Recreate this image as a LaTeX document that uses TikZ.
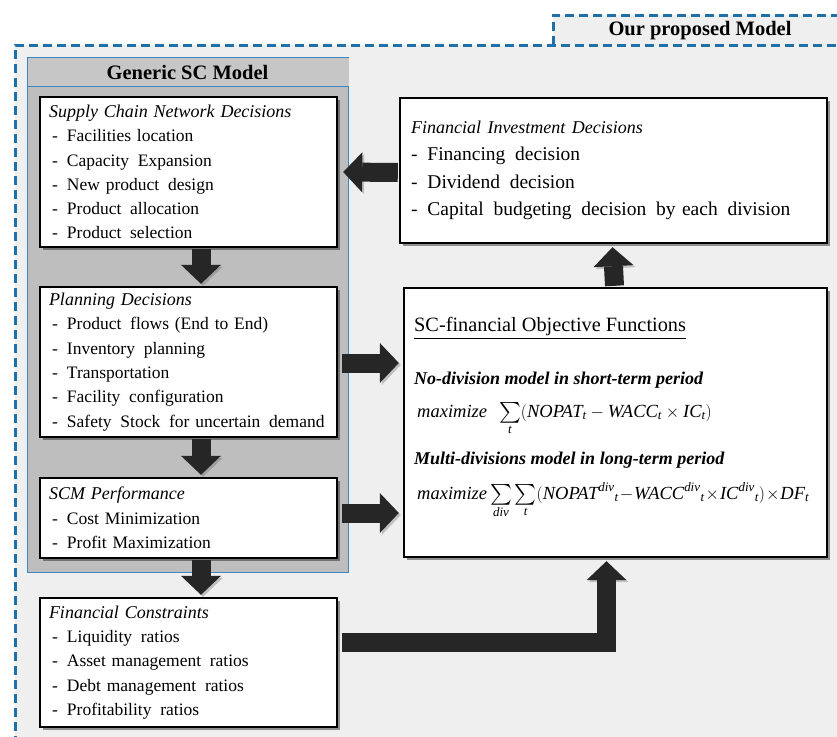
\documentclass[tikz,border=0pt]{standalone}
\usepackage{amsmath}
\usepackage{fontspec}
\setmainfont{Liberation Serif}
\usetikzlibrary{arrows.meta,shadows,calc}

\definecolor{frameblue}{HTML}{1F70A6}
\definecolor{edgeblue}{HTML}{3B87C4}
\definecolor{panel}{HTML}{EFEFEF}
\definecolor{genfill}{HTML}{BEBEBE}
\definecolor{genhead}{HTML}{C6C6C6}
\definecolor{arrowfill}{HTML}{262626}

% list entry: dash, then the item text at a fixed indent
\newcommand{\bitem}[1]{\hspace*{3pt}\makebox[15pt][l]{-}#1}
% italic variable name inside formulas
\newcommand{\mv}[1]{\textit{#1}}
% small upper index of the division formula
\newcommand{\dv}{^{\scriptstyle\mv{div}}}
% medium-sized summation sign, centred on the math axis
\newcommand{\msum}{\mathop{\vcenter{\hbox{\fontsize{21}{21}\selectfont$\sum$}}}}

\begin{document}
\begin{tikzpicture}[x=1pt,y=-1pt,
  box/.style={draw=black, line width=2.4pt, fill=white,
    drop shadow={shadow xshift=3pt, shadow yshift=-3pt, opacity=.4, fill=black},
    inner ysep=2pt},
  leftbox/.style={box, minimum width=297pt, text width=279pt, inner xsep=9pt,
    align=left, font=\fontsize{17.5}{24.3}\selectfont},
  fat/.style={line width=19pt, draw=arrowfill,
    -{Triangle[length=19pt,width=40pt,line width=0pt]},
    preaction={draw=black!60, opacity=.35,
      transform canvas={shift={(2pt,-2pt)}}}},
  headtext/.style={font=\fontsize{20.5}{24}\selectfont\bfseries},
  subtitle/.style={anchor=base west, inner sep=0pt,
    font=\fontsize{18}{22}\selectfont\bfseries\itshape},
  formula/.style={anchor=base west, inner sep=0pt,
    font=\fontsize{18.5}{22}\selectfont},
]
\useasboundingbox (0,0) rectangle (837,736);
\clip (0,0) rectangle (837,736);
\fill[white] (0,0) rectangle (837,736);

% dashed outer frame with its title tab
\fill[panel] (15,45) rectangle (845,745);
\fill[panel] (553,15) rectangle (845,45);
\draw[frameblue, line width=3pt, dash pattern=on 9pt off 5pt]
  (15,745) -- (15,45) -- (845,45);
\draw[frameblue, line width=3pt, dash pattern=on 9pt off 5pt]
  (553,45) -- (553,15) -- (845,15);
\node[headtext] (ptitle) at (700,31) {Our proposed Model};

% generic SC model panel
\node[draw=edgeblue, line width=1pt, fill=genfill, minimum width=321pt,
  minimum height=515pt, anchor=north west, inner sep=0pt] (generic) at (27,57) {};
\fill[genhead] ($(generic.north west)+(0.5,0.5)$) rectangle ($(generic.north east)+(-0.5,29)$);
\draw[edgeblue, line width=1pt] ($(generic.north west)+(0,29)$) -- ($(generic.north east)+(0,29)$);
\node[headtext] (gtitle) at (187.5,72) {Generic SC Model};

% decision boxes
\node[leftbox, minimum height=150pt] (scnd) at (188.5,172) {%
  {\fontsize{18}{24.3}\selectfont\textit{Supply Chain Network Decisions}}\\
  \bitem{Facilities location}\\
  \bitem{Capacity\, Expansion}\\
  \bitem{New product\, design}\\
  \bitem{Product\, allocation}\\
  \bitem{Product\, selection}};
\node[leftbox, minimum height=150pt] (plan) at (188.5,362) {%
  {\fontsize{18}{24.3}\selectfont\textit{Planning Decisions}}\\
  \bitem{Product\, flows (End to End)}\\
  \bitem{Inventory\, planning}\\
  \bitem{Transportation}\\
  \bitem{Facility\, configuration}\\
  \bitem{Safety\, Stock\, for uncertain\, demand}};
\node[leftbox, minimum height=80pt] (scm) at (188.5,518) {%
  {\fontsize{18}{24.3}\selectfont\textit{SCM Performance}}\\
  \bitem{Cost Minimization}\\
  \bitem{Profit Maximization}};
\node[leftbox, minimum height=129pt] (fc) at (188.5,662.5) {%
  {\fontsize{18}{24.3}\selectfont\textit{Financial Constraints}}\\
  \bitem{Liquidity\, ratios}\\
  \bitem{Asset management\, ratios}\\
  \bitem{Debt management\, ratios}\\
  \bitem{Profitability\, ratios}};

\node[box, minimum width=427pt, minimum height=145pt, text width=405pt,
  inner xsep=11pt, align=left, font=\fontsize{19.5}{27.3}\selectfont] (fid) at (613.5,170.5) {%
  {\fontsize{18}{27.3}\selectfont\textit{Financial Investment Decisions}}\\
  -\hspace{10pt}Financing\, decision\\
  -\hspace{10pt}Dividend\, decision\\
  -\hspace{10pt}Capital\, budgeting\, decision\, by each\, division};

\node[box, minimum width=423pt, minimum height=269pt] (obj) at (615.5,422.5) {};
\node[anchor=base west, inner sep=0pt, font=\fontsize{20.3}{24}\selectfont]
  (objt) at (414,331) {\underline{SC-financial Objective Functions}};
\node[subtitle] (sub1) at (414,384) {No-division model in short-term period};
\node[formula] (f1) at (417,417) {\textit{maximize}\hspace{12pt}%
  $\msum\limits_{\mv{t}}(\mv{NOPAT}_{\mv{t}}-\mv{WACC}_{\mv{t}}\times\mv{IC}_{\mv{t}})$};
\node[subtitle] (sub2) at (414,464) {Multi-divisions model in long-term period};
\node[formula] (f2) at (417,499) {\textit{maximize}\hspace{3pt}%
  \medmuskip=1mu $\msum\limits_{\mv{div}}\msum\limits_{\mv{t}}(\mv{NOPAT}\dv{}_{\mv{t}}
  -\mv{WACC}\dv{}_{\mv{t}}\times\mv{IC}\dv{}_{\mv{t}})\times\mv{DF}_{\mv{t}}$};

% block arrows between the boxes
\draw[fat] ($(scnd.south)+(12.5,1)$) -- ($(plan.north)+(12.5,-2)$);
\draw[fat] ($(plan.south)+(12.5,1)$) -- ($(scm.north)+(12.5,-2)$);
\draw[fat] ($(scm.south)+(12.5,1)$) -- ($(fc.north)+(12.5,-2)$);
\draw[fat] ($(plan.east)+(4,1)$) -- ($(obj.west |- plan.east)+(-4,1)$);
\draw[fat] ($(scm.east)+(4,-5)$) -- ($(obj.west |- scm.east)+(-4,-5)$);
\draw[fat] ($(fid.west)+(-1,2)$) -- ($(scnd.east)+(5,0)$);
\draw[fat] ($(obj.north)+(-1,-1)$) -- ($(fid.south)+(-1,3)$);
\draw[fat] ($(fc.east)+(4,-20.5)$) -| ($(obj.south)+(-9,3)$);
\end{tikzpicture}
\end{document}
